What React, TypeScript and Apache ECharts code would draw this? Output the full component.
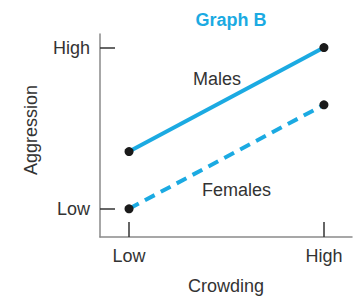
import React, { useEffect, useRef } from "react";
import * as echarts from "echarts";

const crowdingTicks = ["Low", "High"];
const aggressionTicks = ["Low", "High"];
const crowdingValues = [0, 1];
const malesValues = [0.355, 1];
const femalesValues = [0, 0.645];

const BLUE = "#1BAAE2";
const FONT = "Liberation Sans, Arial, sans-serif";

export default function App() {
  const ref = useRef<HTMLDivElement>(null);
  useEffect(() => {
    const chart = echarts.init(ref.current!, null, { renderer: "svg" });
    const males = crowdingValues.map((x, i) => [x, malesValues[i]]);
    const females = crowdingValues.map((x, i) => [x, femalesValues[i]]);
    chart.setOption({
      animation: false,
      title: {
        text: "Graph B",
        left: 226,
        top: 6,
        textAlign: "center",
        textStyle: { color: BLUE, fontFamily: FONT, fontWeight: "bold", fontSize: 18 },
      },
      grid: { left: 100, right: 2, top: 34, bottom: 57 },
      xAxis: {
        type: "value",
        min: -0.149,
        max: 1.144,
        name: "Crowding",
        nameLocation: "middle",
        nameGap: 40,
        nameTextStyle: { color: "#333", fontFamily: FONT, fontSize: 18 },
        splitLine: { show: false },
        axisLine: { onZero: false, lineStyle: { color: "#8a8a8a", width: 1.5 } },
        axisTick: { show: true, inside: true, length: 15, customValues: crowdingValues, lineStyle: { color: "#333", width: 1.5 } },
        axisLabel: {
          customValues: crowdingValues,
          formatter: (v: number) => crowdingTicks[crowdingValues.indexOf(v)] ?? "",
          color: "#333",
          fontFamily: FONT,
          fontSize: 18,
          margin: 10,
        },
      },
      yAxis: {
        type: "value",
        min: -0.175,
        max: 1.084,
        splitLine: { show: false },
        axisLine: { show: true, onZero: false, lineStyle: { color: "#8a8a8a", width: 1.5 } },
        axisTick: { show: true, inside: true, length: 15, customValues: [0, 1], lineStyle: { color: "#333", width: 1.5 } },
        axisLabel: {
          customValues: [0, 1],
          formatter: (v: number) => aggressionTicks[v] ?? "",
          color: "#333",
          fontFamily: FONT,
          fontSize: 18,
          margin: 10,
        },
      },
      series: [
        {
          name: "Males",
          type: "line",
          data: males,
          symbol: "circle",
          symbolSize: 9,
          itemStyle: { color: "#1a1a1a" },
          lineStyle: { color: BLUE, width: 4 },
        },
        {
          name: "Females",
          type: "line",
          data: females,
          symbol: "circle",
          symbolSize: 9,
          itemStyle: { color: "#1a1a1a" },
          lineStyle: { color: BLUE, width: 4, type: [11, 7] },
        },
      ],
      graphic: [
        {
          type: "text",
          x: 31,
          y: 130,
          rotation: Math.PI / 2,
          style: { text: "Aggression", fill: "#333", font: `18px ${FONT}`, align: "center", verticalAlign: "middle" },
        },
        { type: "text", left: 193, top: 70, style: { text: "Males", fill: "#333", font: `18px ${FONT}` } },
        { type: "text", left: 202, top: 181, style: { text: "Females", fill: "#333", font: `18px ${FONT}` } },
      ],
    });
    return () => chart.dispose();
  }, []);
  return <div ref={ref} style={{ width: 354, height: 300, position: "absolute", left: 0, top: 0 }} />;
}
